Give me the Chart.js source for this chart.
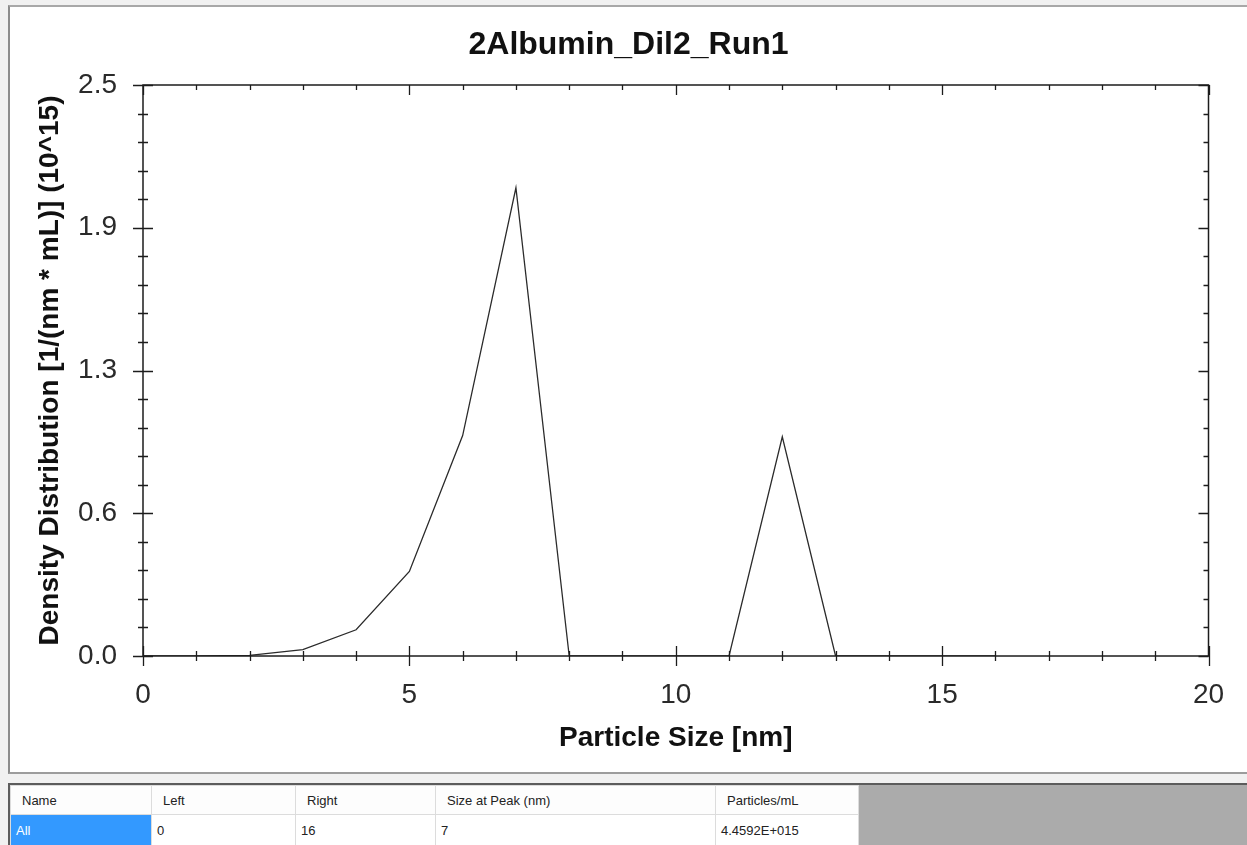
<!DOCTYPE html>
<html>
<head>
<meta charset="utf-8">
<script src="https://cdn.jsdelivr.net/npm/chart.js@4.4.1/dist/chart.umd.min.js"></script>
<style>
  html, body { margin: 0; padding: 0; width: 1247px; height: 845px; overflow: hidden; background: #f1f1f1; font-family: "Liberation Sans", Arial, sans-serif; }
  #panel { position: absolute; left: 8px; top: 5px; width: 1239px; height: 769px; box-sizing: border-box; background: #fff;
           border-top: 2px solid #a8a8a8; border-left: 2px solid #8c8c8c; border-bottom: 2px solid #9c9c9c; }
  #panel canvas { position: absolute; left: 0; top: 0; }
  #grid { position: absolute; left: 8px; top: 783px; width: 1239px; height: 62px; box-sizing: border-box; background: #ababab;
          border-top: 2px solid #5c5c5c; border-left: 2px solid #5c5c5c; }
  #grid table { border-collapse: collapse; table-layout: fixed; width: 848px; font-size: 13px; color: #222; }
  #grid td { box-sizing: border-box; padding: 0 0 0 5px; border: 1px solid #dcdcdc; background: #fff; white-space: nowrap; overflow: hidden; }
  #grid tr.hd td { height: 29px; padding-left: 11px; background: #fdfdfd; }
  #grid tr.rw td { height: 31px; }
  #grid td.sel { background: #3399ff; color: #fff; }
</style>
</head>
<body>
<div id="panel"><canvas id="sizeChart" width="1237" height="765"></canvas></div>
<div id="grid"><table id="peaks"></table></div>
<script>
// particle size (nm) and density distribution (10^15 per nm per mL)
const sizes   = [0, 1, 2, 3, 4, 5, 6, 7, 8, 9, 10, 11, 12, 13, 14, 15, 16];
const density = [0, 0, 0.003, 0.028, 0.115, 0.37, 0.965, 2.05, 0, 0, 0, 0, 0.96, 0, 0, 0, 0];

const xTickLabels = ['0', '5', '10', '15', '20'];
const yTickLabels = ['0.0', '0.6', '1.3', '1.9', '2.5'];
const minorPerMajor = 5; // 4 small ticks between two labelled ones

const tableHeaders = ['Name', 'Left', 'Right', 'Size at Peak (nm)', 'Particles/mL'];
const tableRow     = ['All', '0', '16', '7', '4.4592E+015'];
const columnWidths = [141, 144, 140, 280, 143];

const FONT = '"Liberation Sans", Arial, sans-serif';

// ticks every minor step from the axis min to max
function buildTicks(scale, labels) {
  const n = (labels.length - 1) * minorPerMajor;
  const step = (scale.max - scale.min) / n;
  scale.ticks = [];
  for (let i = 0; i <= n; i++) scale.ticks.push({ value: scale.min + i * step });
}

// box round the plot, ticks crossing bottom/left axes, inner ticks on top/right
const frameTicks = {
  id: 'frameTicks',
  afterDraw(chart) {
    const { ctx, chartArea: a } = chart;
    const x = chart.scales.x, y = chart.scales.y;
    ctx.save();
    ctx.strokeStyle = '#1c1c1c';
    ctx.lineWidth = 1.5;
    ctx.strokeRect(a.left, a.top, a.right - a.left, a.bottom - a.top);
    ctx.lineWidth = 1.3;
    ctx.beginPath();
    x.ticks.forEach((t, i) => {
      const px = Math.round(x.getPixelForValue(t.value)) + 0.5;
      const len = i % minorPerMajor === 0 ? 10 : 5;
      ctx.moveTo(px, a.bottom - len); ctx.lineTo(px, a.bottom + len);
      ctx.moveTo(px, a.top); ctx.lineTo(px, a.top + len);
    });
    y.ticks.forEach((t, i) => {
      const py = Math.round(y.getPixelForValue(t.value)) + 0.5;
      const len = i % minorPerMajor === 0 ? 10 : 5;
      ctx.moveTo(a.left - len, py); ctx.lineTo(a.left + len, py);
      ctx.moveTo(a.right - len, py); ctx.lineTo(a.right, py);
    });
    ctx.stroke();
    ctx.restore();
  }
};

new Chart(document.getElementById('sizeChart'), {
  type: 'line',
  data: {
    datasets: [{
      label: '2Albumin_Dil2_Run1',
      data: sizes.map((s, i) => ({ x: s, y: density[i] })),
      borderColor: '#2b2b2b',
      borderWidth: 1.3,
      pointRadius: 0,
      tension: 0,
      fill: false
    }]
  },
  options: {
    responsive: false,
    devicePixelRatio: 1,
    animation: false,
    layout: { padding: 0 },
    plugins: {
      legend: { display: false },
      tooltip: { enabled: false },
      title: {
        display: true,
        text: '2Albumin_Dil2_Run1',
        color: '#111',
        font: { family: FONT, size: 32, weight: 'bold' },
        padding: { top: 18.8, bottom: 20.8 }
      }
    },
    scales: {
      x: {
        type: 'linear',
        min: 0,
        max: 20,
        afterBuildTicks: s => buildTicks(s, xTickLabels),
        afterFit: s => { s.height = 116; },
        grid: { display: false, drawTicks: false },
        border: { display: false },
        ticks: {
          autoSkip: false,
          maxRotation: 0,
          padding: 22,
          color: '#2a2a2a',
          font: { family: FONT, size: 28 },
          callback: (v, i) => i % minorPerMajor === 0 ? xTickLabels[i / minorPerMajor] : ''
        },
        title: {
          display: true,
          text: 'Particle Size [nm]',
          color: '#111',
          font: { family: FONT, size: 28, weight: 'bold' },
          padding: { top: 0, bottom: 17 }
        }
      },
      y: {
        min: 0,
        max: 2.5,
        afterBuildTicks: s => buildTicks(s, yTickLabels),
        afterFit: s => { s.width = 133; },
        grid: { display: false, drawTicks: false },
        border: { display: false },
        ticks: {
          autoSkip: false,
          padding: 26,
          color: '#2a2a2a',
          font: { family: FONT, size: 28 },
          callback: (v, i) => i % minorPerMajor === 0 ? yTickLabels[i / minorPerMajor] : ''
        },
        title: {
          display: true,
          text: 'Density Distribution [1/(nm * mL)] (10^15)',
          color: '#111',
          font: { family: FONT, size: 28, weight: 'bold' },
          padding: { top: 23, bottom: 0 }
        }
      },
      // empty right-hand margin so the title centres on the whole panel
      yRight: {
        position: 'right',
        min: 0,
        max: 2.5,
        afterFit: s => { s.width = 38.5; },
        grid: { display: false, drawTicks: false },
        border: { display: false },
        ticks: { display: false }
      }
    }
  },
  plugins: [frameTicks]
});

// peak table under the chart
const table = document.getElementById('peaks');
const head = table.insertRow();
head.className = 'hd';
tableHeaders.forEach((h, i) => {
  const c = head.insertCell();
  c.textContent = h;
  c.style.width = columnWidths[i] + 'px';
});
const row = table.insertRow();
row.className = 'rw';
tableRow.forEach((v, i) => {
  const c = row.insertCell();
  c.textContent = v;
  if (i === 0) c.className = 'sel';
});
</script>
</body>
</html>
